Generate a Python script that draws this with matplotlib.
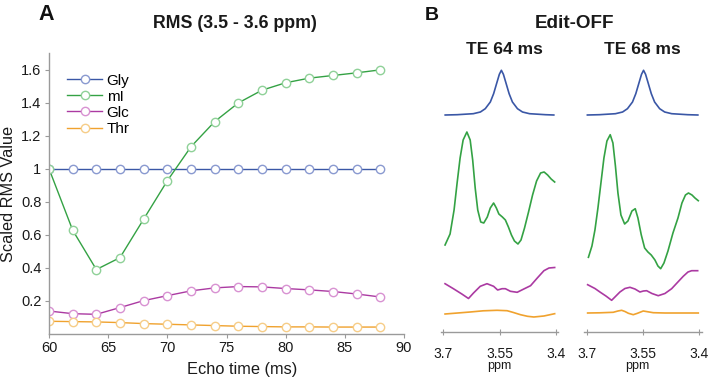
import matplotlib
matplotlib.use("Agg")
import matplotlib.pyplot as plt

plt.rcParams['font.family'] = ['Liberation Sans', 'DejaVu Sans']

# ------------------------------------------------------------
# Panel A data: scaled RMS (3.5 - 3.6 ppm) vs echo time
# ------------------------------------------------------------
echo_time = [60, 62, 64, 66, 68, 70, 72, 74, 76, 78, 80, 82, 84, 86, 88]
rms_gly = [1.0, 1.0, 1.0, 1.0, 1.0, 1.0, 1.0, 1.0, 1.0, 1.0, 1.0, 1.0, 1.0, 1.0, 1.0]
rms_mi = [1.0, 0.628, 0.39, 0.462, 0.695, 0.927, 1.133, 1.285, 1.398, 1.475,
          1.52, 1.548, 1.564, 1.58, 1.598]
rms_glc = [0.139, 0.123, 0.119, 0.16, 0.202, 0.232, 0.261, 0.279, 0.287, 0.285,
           0.275, 0.267, 0.257, 0.242, 0.224]
rms_thr = [0.077, 0.075, 0.073, 0.069, 0.063, 0.059, 0.055, 0.051, 0.047, 0.045,
           0.043, 0.043, 0.042, 0.042, 0.042]

# ------------------------------------------------------------
# Panel B data: Edit-OFF spectra (stacked, arbitrary units)
# ------------------------------------------------------------
# TE 64 ms
ppm_gly_64 = [3.695, 3.663, 3.62, 3.601, 3.588, 3.5745, 3.5657, 3.5565, 3.5504, 3.545,
              3.5396, 3.5335, 3.5243, 3.5155, 3.502, 3.4886, 3.4698, 3.427, 3.405]
gly_64 = [216.0, 216.3, 217.3, 219.0, 222.3, 229.0, 237.3, 249.0, 256.7, 260.7,
          256.7, 249.0, 237.3, 229.0, 222.3, 219.0, 217.3, 216.3, 216.0]
ppm_mi_64 = [3.6954, 3.682, 3.6713, 3.6632, 3.6552, 3.6471, 3.6371, 3.6283, 3.6216,
             3.6149, 3.6081, 3.6001, 3.592, 3.5826, 3.5746, 3.5657, 3.5584, 3.5517,
             3.5423, 3.5343, 3.5262, 3.5181, 3.5101, 3.5007, 3.4926, 3.4832, 3.4725,
             3.4617, 3.451, 3.4403, 3.4309, 3.4215, 3.4121, 3.4027]
mi_64 = [86, 97, 121, 148, 173, 191, 199, 191, 171, 143, 121, 109, 108, 114, 123,
         128, 123, 117, 114, 111, 104, 96, 90, 87, 91, 103, 119, 136, 150, 158,
         159, 156, 152, 149]
ppm_glc_64 = [3.6954, 3.6731, 3.6506, 3.6328, 3.6194, 3.6014, 3.5834, 3.5657, 3.555,
              3.5431, 3.5343, 3.5208, 3.5028, 3.4851, 3.4671, 3.4491, 3.4314, 3.4179,
              3.4027]
glc_64 = [47.3, 42.3, 37.0, 32.5, 38.0, 44.7, 47.3, 44.7, 41.0, 42.3, 42.3, 39.7,
          38.7, 42.0, 45.3, 53.0, 60.3, 63.0, 63.5]
ppm_thr_64 = [3.6954, 3.6283, 3.5934, 3.5566, 3.5297, 3.5128, 3.494, 3.4752, 3.4583,
              3.4314, 3.4027]
thr_64 = [17.0, 19.0, 20.2, 20.7, 20.3, 18.5, 16.3, 14.7, 14.0, 15.0, 17.3]

# TE 68 ms
ppm_gly_68 = [3.698, 3.666, 3.623, 3.604, 3.591, 3.5775, 3.5687, 3.5595, 3.5534, 3.548,
              3.5426, 3.5365, 3.5273, 3.5185, 3.505, 3.4916, 3.4728, 3.43, 3.403]
gly_68 = [216.0, 216.3, 217.3, 219.0, 222.3, 229.0, 237.3, 249.0, 256.7, 260.7,
          256.7, 249.0, 237.3, 229.0, 222.3, 219.0, 217.3, 216.3, 216.0]
ppm_mi_68 = [3.6952, 3.6858, 3.6778, 3.6698, 3.6618, 3.6538, 3.6458, 3.637, 3.6298,
             3.6231, 3.6164, 3.6084, 3.5985, 3.5897, 3.579, 3.5702, 3.563, 3.5542,
             3.5451, 3.5363, 3.5275, 3.5176, 3.5096, 3.5023, 3.4935, 3.4828, 3.4695,
             3.4561, 3.4455, 3.4361, 3.4281, 3.4187, 3.4107, 3.4019]
mi_68 = [73.7, 85, 101, 123, 148, 173, 190, 196.3, 188, 165, 138, 116, 107, 110,
         120, 122.3, 113, 96.3, 83, 79, 76, 71, 65, 62.3, 68, 80, 98, 113, 128, 136,
         138, 136, 133, 130.3]
ppm_glc_68 = [3.6973, 3.6778, 3.6645, 3.6485, 3.6332, 3.6217, 3.6111, 3.5977, 3.5843,
              3.571, 3.5576, 3.5483, 3.5397, 3.5256, 3.5088, 3.4909, 3.473, 3.4588,
              3.442, 3.4294, 3.4196, 3.4035]
glc_68 = [46.3, 42.5, 39.0, 35.0, 30.7, 35.0, 39.0, 42.5, 43.7, 42.0, 39.0, 40.0,
          40.3, 37.5, 35.3, 37.5, 42.3, 48.0, 54.7, 59.0, 60.3, 60.3]
ppm_thr_68 = [3.6973, 3.6645, 3.629, 3.6164, 3.6065, 3.5977, 3.5884, 3.5755, 3.5643,
              3.5488, 3.5363, 3.5221, 3.4909, 3.4508, 3.4019]
thr_68 = [18.0, 18.2, 18.7, 20.0, 20.7, 19.5, 17.7, 16.3, 17.7, 20.0, 19.2, 18.3,
          18.0, 18.0, 18.0]

labels = ['Gly', 'mI', 'Glc', 'Thr']
colors = ['#3a57a6', '#34a244', '#ab3aa2', '#f0a22e']
edge_colors = ['#8a9ad0', '#8fd198', '#d892d2', '#f6cd88']

W, H = 709, 380
fig = plt.figure(figsize=(W / 100, H / 100), dpi=100)
grey = '#9a9a9a'
ink = '#1a1a1a'

# ------------------------------------------------------------
# Panel A
# ------------------------------------------------------------
ax = fig.add_axes([49 / W, 1 - 334 / H, (404 - 49) / W, (334 - 53) / H])
for yv, lab, c, ec in zip([rms_gly, rms_mi, rms_glc, rms_thr], labels, colors, edge_colors):
    ax.plot(echo_time, yv, '-o', color=c, lw=1.0, ms=6, mfc='white', mec=ec,
            mew=1.0, label=lab)
ax.set_xlim(60, 90)
ax.set_ylim(0, 1.7)
ax.set_xticks([60, 65, 70, 75, 80, 85, 90])
ax.set_yticks([0.2, 0.4, 0.6, 0.8, 1.0, 1.2, 1.4, 1.6])
ax.set_yticklabels(['0.2', '0.4', '0.6', '0.8', '1', '1.2', '1.4', '1.6'])
for s in ['top', 'right']:
    ax.spines[s].set_visible(False)
for s in ['left', 'bottom']:
    ax.spines[s].set_color(grey)
    ax.spines[s].set_linewidth(1.0)
ax.tick_params(direction='out', length=3, width=0.8, color=grey,
               labelsize=10.5, labelcolor=ink)
ax.tick_params(axis='x', pad=2)
ax.tick_params(axis='y', pad=2.5)
ax.legend(loc='upper left', bbox_to_anchor=(67 / W, 1 - 73.5 / H),
          bbox_transform=fig.transFigure, frameon=False, fontsize=11,
          labelspacing=0.14, handlelength=2.3, handletextpad=0.3,
          borderpad=0, borderaxespad=0, numpoints=1)

fig.text(241.7 / W, 1 - 369.3 / H, 'Echo time (ms)', ha='center', va='center',
         fontsize=11.8, color=ink)
fig.text(9 / W, 1 - 194 / H, 'Scaled RMS Value', ha='center', va='center',
         rotation=90, fontsize=11.7, color=ink)
fig.text(234.5 / W, 1 - 23.3 / H, 'RMS (3.5 - 3.6 ppm)', ha='center', va='center',
         fontsize=12.8, fontweight='bold', color=ink)
fig.text(46.7 / W, 1 - 15 / H, 'A', ha='center', va='center', fontsize=15.5,
         fontweight='bold', color='#111111')

# ------------------------------------------------------------
# Panel B
# ------------------------------------------------------------
spectra = [
    (440.7, 'TE 64 ms', 504.5, [(ppm_gly_64, gly_64), (ppm_mi_64, mi_64),
                               (ppm_glc_64, glc_64), (ppm_thr_64, thr_64)]),
    (584.0, 'TE 68 ms', 642.7, [(ppm_gly_68, gly_68), (ppm_mi_68, mi_68),
                               (ppm_glc_68, glc_68), (ppm_thr_68, thr_68)]),
]
for left, title, tx, traces in spectra:
    axb = fig.add_axes([left / W, 1 - 332 / H, 117.6 / W, 272 / H])
    for (xs, ys), c in zip(traces, colors):
        axb.plot(xs, ys, color=c, lw=1.2, solid_joinstyle='round')
    axb.set_xlim(3.707, 3.393)
    axb.set_ylim(-1, 271)
    axb.set_xticks([3.7, 3.55, 3.4])
    axb.set_xticklabels(['3.7', '3.55', '3.4'])
    axb.set_yticks([])
    for s in ['top', 'right', 'left']:
        axb.spines[s].set_visible(False)
    axb.spines['bottom'].set_color(grey)
    axb.spines['bottom'].set_linewidth(1.0)
    axb.tick_params(axis='x', direction='inout', length=5, width=0.8, color=grey,
                    labelsize=10, labelcolor=ink, pad=8)
    axb.patch.set_visible(False)
    fig.text((tx - 5) / W, 1 - 366 / H, 'ppm', ha='center', va='center',
             fontsize=9, color=ink)
    fig.text(tx / W, 1 - 49 / H, title, ha='center', va='center',
             fontsize=12.6, fontweight='bold', color=ink)

fig.text(574.3 / W, 1 - 23.7 / H, 'Edit-OFF', ha='center', va='center',
         fontsize=13.6, fontweight='bold', color=ink)
fig.text(431.7 / W, 1 - 15 / H, 'B', ha='center', va='center', fontsize=14,
         fontweight='bold', color='#111111')

fig.savefig('out.png', dpi=100)
